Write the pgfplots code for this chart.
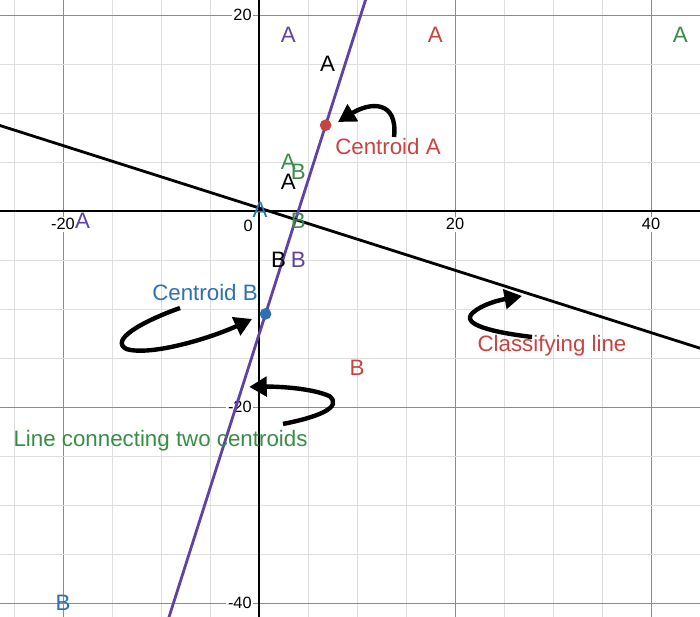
\documentclass[border=0pt]{standalone}
\usepackage{pgfplots}
\pgfplotsset{compat=1.18}
\usepackage{fontspec}
\setmainfont{Liberation Sans}
\usetikzlibrary{arrows.meta}
\definecolor{dred}{HTML}{C74440}
\definecolor{dblue}{HTML}{2D70B3}
\definecolor{dgreen}{HTML}{388C46}
\definecolor{dpurple}{HTML}{6042A6}
\pgfplotsset{letter/.style 2 args={only marks, color=#1, mark=text, text mark={#2}, text mark as node=true, on layer=axis foreground,
  text mark style={font=\fontsize{12.7}{13}\selectfont, anchor=center, inner sep=0pt}}}
\begin{document}
\begin{tikzpicture}
\begin{axis}[
  set layers,
  scale only axis, width=14cm, height=12.34cm,
  xmin=-26.43, xmax=45.0, ymin=-41.43, ymax=21.53,
  axis lines=middle, axis line style={-, line width=0.9pt, black},
  xtick={-20,20,40}, ytick={-40,-20,20},
  minor xtick={-25,-15,-10,-5,0,5,10,15,25,30,35,45},
  minor ytick={-35,-30,-25,-15,-10,-5,0,5,10,15},
  grid=both,
  major grid style={black!45, line width=0.5pt},
  minor grid style={black!13, line width=0.5pt},
  major tick length=0pt, minor tick length=0pt,
  tick label style={font=\fontsize{9.3}{10}\selectfont, fill=white, inner sep=1pt},
  /pgf/number format/assume math mode=true,
  xticklabel style={anchor=north, yshift=-3pt},
  yticklabel style={anchor=east, xshift=-3pt},
  clip=true,
]
\addplot[dpurple, line width=1.6pt] coordinates {(-10,-44.0) (11,21.94)};
\addplot[black, line width=1.6pt] coordinates {(-27,8.90) (46,-14.32)};

\addplot[letter={dpurple}{A}] coordinates {(3,18) (-18,-1)};
\addplot[letter={dpurple}{B}] coordinates {(4,-5)};
\addplot[letter={dred}{A}] coordinates {(18,18)};
\addplot[letter={dred}{B}] coordinates {(10,-16)};
\addplot[letter={dgreen}{A}] coordinates {(43,18) (3,5)};
\addplot[letter={dgreen}{B}] coordinates {(4,4) (4,-1)};
\addplot[letter={black}{A}] coordinates {(7,15) (3,3)};
\addplot[letter={black}{B}] coordinates {(2,-5)};
\addplot[letter={dblue}{A}] coordinates {(0.1,0.1)};
\addplot[letter={dblue}{B}] coordinates {(-20,-40)};

\addplot[only marks, mark=*, mark size=3.1pt, color=dred, on layer=axis foreground] coordinates {(6.8,8.75)};
\addplot[only marks, mark=*, mark size=3.1pt, color=dblue, on layer=axis foreground] coordinates {(0.67,-10.5)};

\node[font=\fontsize{9.3}{10}\selectfont] at (axis cs:-1.1,-1.5) {0};

\node[text=dred, font=\fontsize{12.7}{13}\selectfont] at (axis cs:13.16,6.53) {Centroid A};
\node[text=dblue, font=\fontsize{12.7}{13}\selectfont] at (axis cs:-5.51,-8.37) {Centroid B};
\node[text=dred, font=\fontsize{12.7}{13}\selectfont] at (axis cs:29.9,-13.78) {Classifying line};
\node[text=dgreen, font=\fontsize{12.7}{13}\selectfont] at (axis cs:-10.05,-23.47) {Line connecting two centroids};

\draw[line width=2.5pt, -{Triangle[length=10pt, width=11pt]}] (axis cs:13.78,7.55) .. controls (axis cs:14.18,11.33) and (axis cs:11.33,11.12) .. (axis cs:8.06,9.08);
\draw[line width=2.5pt, -{Triangle[length=10pt, width=11pt]}] (axis cs:-8.06,-9.90) .. controls (axis cs:-12,-11.3) and (axis cs:-15.3,-13.2) .. (axis cs:-13.5,-14.1) .. controls (axis cs:-11,-14.8) and (axis cs:-5,-13) .. (axis cs:-0.71,-11.02);
\draw[line width=2.5pt, -{Triangle[length=10pt, width=11pt]}] (axis cs:2.45,-21.73) .. controls (axis cs:6.2,-21) and (axis cs:8.5,-20) .. (axis cs:7.2,-18.9) .. controls (axis cs:5.5,-18.1) and (axis cs:2,-17.9) .. (axis cs:-1.0,-17.95);
\draw[line width=2.5pt, -{Triangle[length=10pt, width=11pt]}] (axis cs:27.86,-12.86) .. controls (axis cs:24,-12.4) and (axis cs:20.5,-11.6) .. (axis cs:21.8,-10.4) .. controls (axis cs:22.8,-9.5) and (axis cs:24.5,-9.1) .. (axis cs:26.84,-8.67);
\end{axis}
\pgfresetboundingbox
\path[use as bounding box] (current axis.south west) rectangle (current axis.north east);
\end{tikzpicture}
\end{document}
